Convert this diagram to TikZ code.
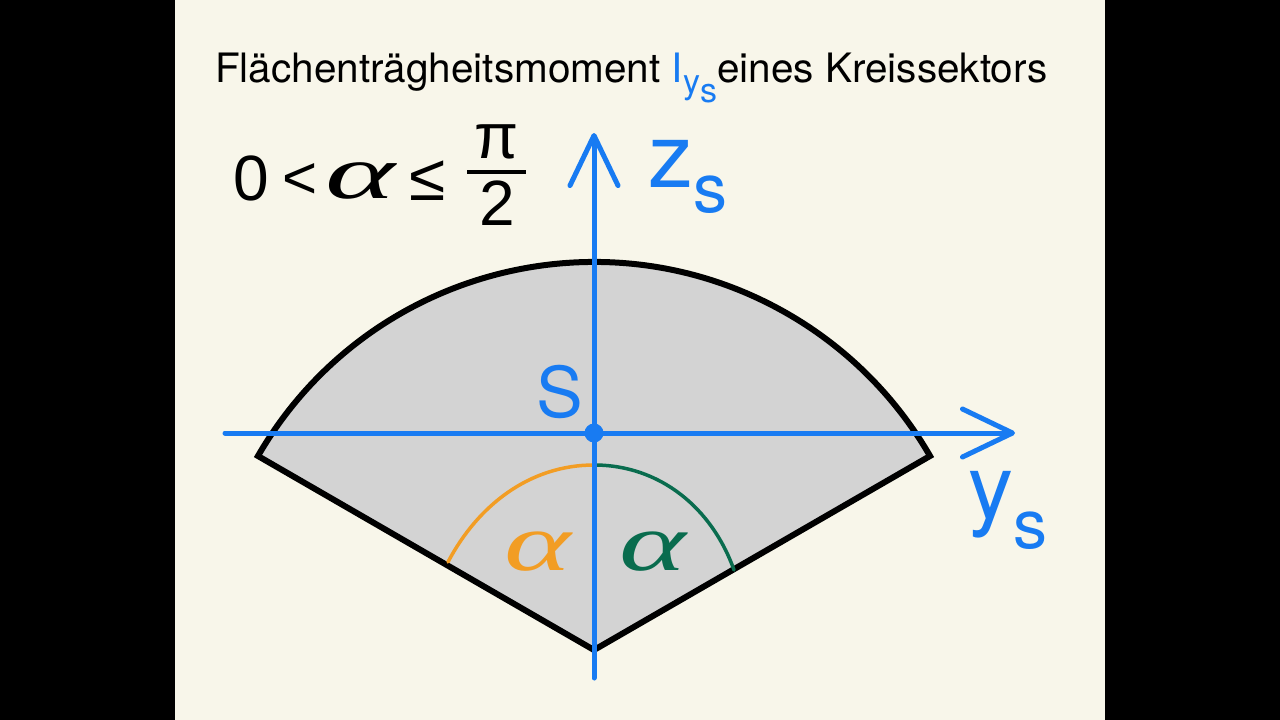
\documentclass[tikz,border=0pt]{standalone}
\usepackage{fontspec}
\setmainfont{TeX Gyre Heros}
\newfontfamily\formulafont{Liberation Sans}
\newfontfamily\alphafont{Liberation Serif}
\usetikzlibrary{arrows.meta}

\definecolor{PaperColor}{RGB}{248,246,234}
\definecolor{AxisColor}{RGB}{24,123,242}
\definecolor{SectorColor}{RGB}{211,211,211}
\definecolor{LeftAngleColor}{RGB}{242,157,36}
\definecolor{RightAngleColor}{RGB}{9,108,78}

\tikzstyle{axis}=[draw=AxisColor,
                  line width=5pt,
                  line cap=round,
                  -{Straight Barb[length=50pt,width=48pt,round]}
                 ]
\tikzstyle{axis-label}=[text=AxisColor, inner sep=0pt, anchor=base west]
\tikzstyle{angle-arc}=[line width=3.5pt, line cap=round]
\tikzstyle{angle-label}=[inner sep=0pt, font=\alphafont\itshape\fontsize{82}{82}\selectfont]
\tikzstyle{range-part}=[inner sep=0pt, anchor=base, font=\formulafont\fontsize{64}{64}\selectfont]

\begin{document}
\begin{tikzpicture}[x=1pt, y=-1pt]
\useasboundingbox (0,0) rectangle (1280,720);
\fill[black] (0,0) rectangle (1280,720);
\fill[PaperColor] (175,0) rectangle (1105,720);

% title
\node at (215, 82) (title) [anchor=base west, inner sep=0pt, font=\fontsize{40.5}{46}\selectfont]
  {Flächenträgheitsmoment {\color{AxisColor}I\raisebox{-11pt}{\fontsize{34}{34}\selectfont y\raisebox{-9pt}{s}}}eines Kreissektors};

% range of alpha
\node at (251, 200) (range_zero)  [range-part] {0};
\node at (300, 198) (range_less)  [range-part, font=\formulafont\fontsize{60}{60}\selectfont] {<};
\node at (360, 198) (range_alpha) [range-part, font=\alphafont\itshape\fontsize{76}{76}\selectfont] {\scalebox{1.75}[1]{α}};
\node at (428, 200) (range_leq)   [range-part, font=\formulafont\fontsize{66}{66}\selectfont] {≤};
\node at (497, 158) (range_pi)    [range-part] {π};
\node at (497, 225) (range_two)   [range-part] {2};
\draw[line width=4pt] (467,172) -- (526,172);

% sector
\coordinate (apex) at (594,650);
\fill[SectorColor] (apex) -- ++(-150:388) arc[start angle=-150, end angle=-30, radius=388] -- cycle;
\draw[line width=6pt, line join=miter] (apex) -- ++(-150:388) arc[start angle=-150, end angle=-30, radius=388] -- cycle;

% angles
\coordinate (arc_top)       at (594,465);
\coordinate (arc_left_end)  at (448,562);
\coordinate (arc_right_end) at (734,570);
\draw[angle-arc, LeftAngleColor]  (arc_top) .. controls (530,465) and (478,505) .. (arc_left_end);
\draw[angle-arc, RightAngleColor] (arc_top) .. controls (660,465) and (712,508) .. (arc_right_end);
\node at (538, 552) (alpha_left)  [angle-label, text=LeftAngleColor]  {\scalebox{1.55}[1]{α}};
\node at (653, 552) (alpha_right) [angle-label, text=RightAngleColor] {\scalebox{1.55}[1]{α}};

% axes
\coordinate (ys_start) at (225,433);
\coordinate (ys_end)   at (1015,433);
\coordinate (zs_start) at (594,678);
\coordinate (zs_end)   at (594,133);
\draw[axis] (ys_start) -- (ys_end);
\draw[axis] (zs_start) -- (zs_end);
\node at (594,433) (S_point) [circle, fill=AxisColor, inner sep=0pt, minimum size=19pt] {};

\node at (536, 417) (S_label)  [axis-label, font=\fontsize{70}{70}\selectfont] {S};
\node at (648, 187) (zs_label) [axis-label, font=\fontsize{90}{90}\selectfont] {z\fontsize{68}{68}\selectfont\raisebox{-25pt}{s}};
\node at (968, 518) (ys_label) [axis-label, font=\fontsize{90}{90}\selectfont] {y\fontsize{68}{68}\selectfont\raisebox{-30pt}{s}};
\end{tikzpicture}
\end{document}
